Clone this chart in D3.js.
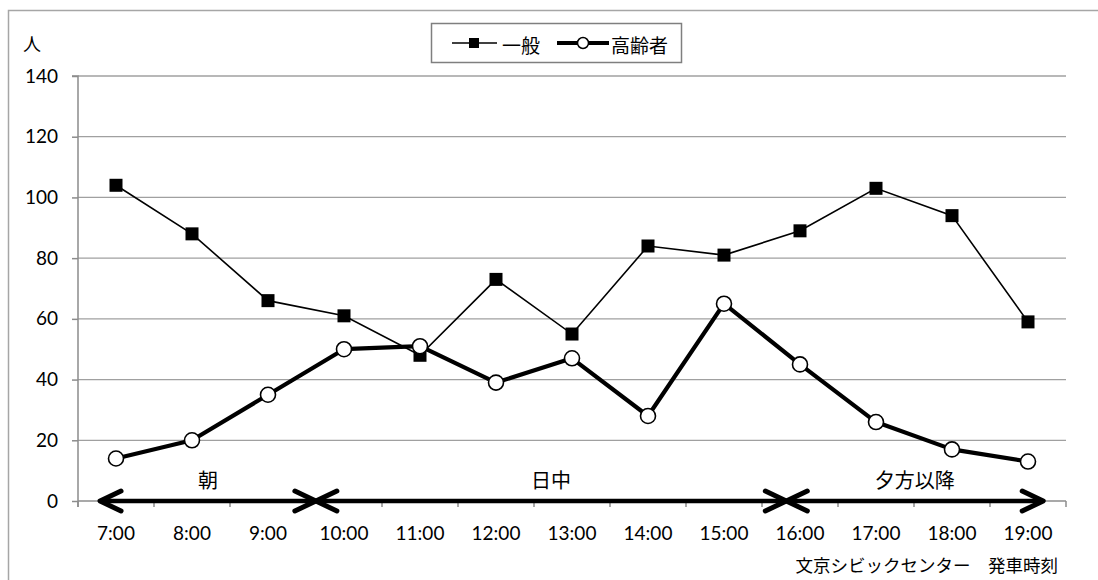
<!DOCTYPE html>
<html><head><meta charset="utf-8">
<script src="https://cdn.jsdelivr.net/npm/d3@7"></script>
<style>html,body{margin:0;padding:0;background:#fff;}svg{display:block;}</style>
</head><body>
<script>
const categories = ["7:00","8:00","9:00","10:00","11:00","12:00","13:00","14:00","15:00","16:00","17:00","18:00","19:00"];
const general = [104,88,66,61,48,73,55,84,81,89,103,94,59];
const elderly = [14,20,35,50,51,39,47,28,65,45,26,17,13];
const yTicks = [0,20,40,60,80,100,120,140];
const seriesNames = ["一般","高齢者"];
const periodLabels = ["朝","日中","夕方以降"];
const periodStart = [-0.21, 2.63, 8.82];
const periodEnd = [2.63, 8.82, 12.2];
const yUnit = "人";
const xCaption = "文京シビックセンター　発車時刻";

const W = 1098, H = 580;
const mLeft = 78, mRight = 1066, mTop = 76, mBottom = 501;
const numFont = "Lato, 'Noto Sans CJK JP', sans-serif";
const jpFont = "'Noto Sans CJK JP', sans-serif";

const svg = d3.select("body").append("svg").attr("width", W).attr("height", H);

// outer border (cropped chart area)
svg.append("path").attr("d", `M8.5,${H} V10.5 H${W}`).attr("fill","none").attr("stroke","#a6a6a6").attr("stroke-width",1.5);

const x = d3.scaleBand().domain(categories).range([mLeft, mRight]).padding(0);
const xi = d3.scaleLinear().domain([-0.5, categories.length - 0.5]).range([mLeft, mRight]);
const y = d3.scaleLinear().domain([0, 140]).range([mBottom, mTop]);

// gridlines
svg.append("g").selectAll("line").data(yTicks.filter(d => d > 0)).join("line")
  .attr("x1", mLeft).attr("x2", mRight).attr("y1", d => y(d)).attr("y2", d => y(d))
  .attr("stroke", "#a0a0a0").attr("stroke-width", 1.3);

// y axis
const yAxis = svg.append("g").attr("transform", `translate(${mLeft},0)`)
  .call(d3.axisLeft(y).tickValues(yTicks).tickSize(6).tickPadding(14));
yAxis.select(".domain").attr("stroke", "#8c8c8c").attr("stroke-width", 1.5).attr("d", `M-6,${mTop}H0V${mBottom + 6}`);
yAxis.selectAll(".tick line").attr("stroke", "#8c8c8c").attr("stroke-width", 1.5);
yAxis.selectAll(".tick text").attr("font-family", numFont).attr("font-size", 19).attr("fill", "#000");

// x axis
const xAxis = svg.append("g").attr("transform", `translate(0,${mBottom})`)
  .call(d3.axisBottom(x).tickSize(0).tickPadding(26));
xAxis.select(".domain").attr("stroke", "#8c8c8c").attr("stroke-width", 1.5).attr("d", `M${mLeft},0H${mRight}`);
xAxis.selectAll(".tick text").attr("font-family", numFont).attr("font-size", 19).attr("fill", "#000");
svg.append("g").selectAll("line").data(d3.range(categories.length + 1)).join("line")
  .attr("x1", d => xi(d - 0.5)).attr("x2", d => xi(d - 0.5))
  .attr("y1", mBottom).attr("y2", mBottom + 6)
  .attr("stroke", "#8c8c8c").attr("stroke-width", 1.5);

// unit label
svg.append("text").attr("x", 32).attr("y", 43).attr("text-anchor","middle").attr("dominant-baseline","central")
  .attr("font-family", jpFont).attr("font-size", 18).text(yUnit);

// caption
svg.append("text").attr("x", 1058).attr("y", 564).attr("text-anchor","end").attr("dominant-baseline","central")
  .attr("font-family", jpFont).attr("font-size", 17.5).text(xCaption);

// period arrows
const ag = svg.append("g");
periodLabels.forEach((lab, i) => {
  const x1 = xi(periodStart[i]), x2 = xi(periodEnd[i]);
  const g = ag.append("g").attr("stroke", "#000").attr("fill", "none").attr("stroke-linecap","round").attr("stroke-linejoin","round");
  g.append("line").attr("x1", x1 + 2).attr("x2", x2 - 2).attr("y1", mBottom).attr("y2", mBottom).attr("stroke-width", 4.5);
  g.append("path").attr("d", `M${x1 + 21},${mBottom - 10}L${x1},${mBottom}L${x1 + 21},${mBottom + 10}`).attr("stroke-width", 5);
  g.append("path").attr("d", `M${x2 - 21},${mBottom - 10}L${x2},${mBottom}L${x2 - 21},${mBottom + 10}`).attr("stroke-width", 5);
  ag.append("text").attr("x", (x1 + x2) / 2).attr("y", 479).attr("text-anchor","middle").attr("dominant-baseline","central")
    .attr("font-family", jpFont).attr("font-size", 20).text(lab);
});

// series lines
const line = d3.line().x((d, i) => x(categories[i]) + x.bandwidth() / 2).y(d => y(d));
svg.append("path").datum(general).attr("d", line).attr("fill","none").attr("stroke","#000").attr("stroke-width",1.6);
svg.append("path").datum(elderly).attr("d", line).attr("fill","none").attr("stroke","#000").attr("stroke-width",4.2).attr("stroke-linejoin","round");

svg.append("g").selectAll("rect").data(general).join("rect")
  .attr("x", (d, i) => x(categories[i]) + x.bandwidth() / 2 - 6.5).attr("y", d => y(d) - 6.5)
  .attr("width", 13).attr("height", 13).attr("fill", "#000");
svg.append("g").selectAll("circle").data(elderly).join("circle")
  .attr("cx", (d, i) => x(categories[i]) + x.bandwidth() / 2).attr("cy", d => y(d)).attr("r", 7.5)
  .attr("fill", "#fff").attr("stroke", "#000").attr("stroke-width", 1.6);

// legend
const lg = svg.append("g");
lg.append("rect").attr("x", 431.5).attr("y", 23.5).attr("width", 250).attr("height", 39)
  .attr("fill","#fff").attr("stroke","#7f7f7f").attr("stroke-width",1.5);
lg.append("line").attr("x1", 452).attr("x2", 497).attr("y1", 43).attr("y2", 43).attr("stroke","#000").attr("stroke-width",1.6);
lg.append("rect").attr("x", 469).attr("y", 38).attr("width", 10).attr("height", 10).attr("fill","#000");
lg.append("text").attr("x", 502).attr("y", 44).attr("dominant-baseline","central")
  .attr("font-family", jpFont).attr("font-size", 19).text(seriesNames[0]);
lg.append("line").attr("x1", 557).attr("x2", 609).attr("y1", 43).attr("y2", 43).attr("stroke","#000").attr("stroke-width",4.2);
lg.append("circle").attr("cx", 583).attr("cy", 43).attr("r", 5.5).attr("fill","#fff").attr("stroke","#000").attr("stroke-width",1.5);
lg.append("text").attr("x", 611).attr("y", 44).attr("dominant-baseline","central")
  .attr("font-family", jpFont).attr("font-size", 19).text(seriesNames[1]);
</script>
</body></html>
